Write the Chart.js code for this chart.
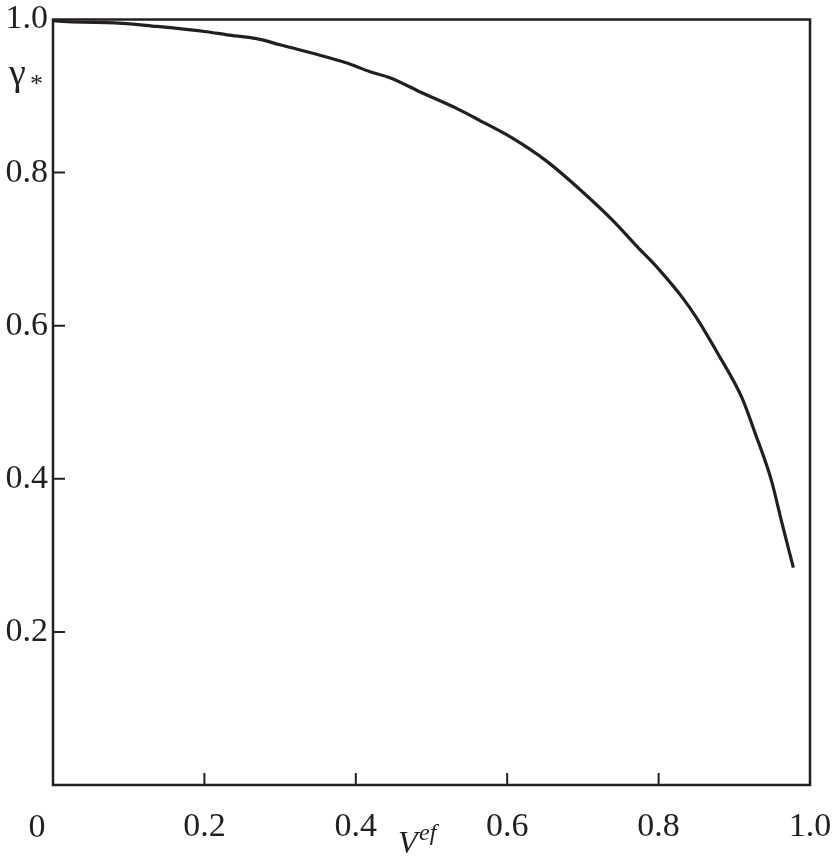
<!DOCTYPE html>
<html>
<head>
<meta charset="utf-8">
<script src="https://cdn.jsdelivr.net/npm/chart.js@4.4.1/dist/chart.umd.min.js"></script>
<style>
html,body{margin:0;padding:0;background:#fff;}
#wrap{width:833px;height:856px;}
</style>
</head>
<body>
<div id="wrap"><canvas id="c" width="833" height="856"></canvas></div>
<script>
const vefValues = [0, 0.003, 0.071, 0.137, 0.203, 0.230, 0.269, 0.300, 0.392, 0.418, 0.445, 0.488, 0.537, 0.564, 0.607, 0.652, 0.696, 0.739, 0.772, 0.801, 0.832, 0.851, 0.878, 0.910, 0.927, 0.949, 0.962, 0.978];
const gammaValues = [1.0, 0.998, 0.996, 0.991, 0.984, 0.980, 0.975, 0.967, 0.942, 0.932, 0.924, 0.904, 0.882, 0.868, 0.845, 0.815, 0.778, 0.738, 0.703, 0.673, 0.636, 0.609, 0.564, 0.506, 0.461, 0.398, 0.346, 0.284];
const xTickValues = [0, 0.2, 0.4, 0.6, 0.8, 1.0];
const yTickValues = [0.2, 0.4, 0.6, 0.8, 1.0];
const xTitle = 'V';
const xTitleSup = 'ef';
const yTitle = 'γ';
const yTitleSub = '*';

const INK = '#231f20';
const FONT = "'Liberation Serif', 'Times New Roman', serif";

const frame = {
  id: 'frame',
  afterDraw(chart) {
    const {ctx, chartArea: a, scales} = chart;
    ctx.save();
    ctx.strokeStyle = INK;
    ctx.lineWidth = 2.5;
    ctx.strokeRect(a.left, a.top, a.right - a.left, a.bottom - a.top);
    ctx.lineWidth = 2;
    ctx.beginPath();
    xTickValues.forEach(v => {
      if (v <= 0 || v >= 1) return;
      const x = scales.x.getPixelForValue(v);
      ctx.moveTo(x, a.bottom); ctx.lineTo(x, a.bottom - 12);
    });
    yTickValues.forEach(v => {
      if (v >= 1) return;
      const y = scales.y.getPixelForValue(v);
      ctx.moveTo(a.left, y); ctx.lineTo(a.left + 12, y);
    });
    ctx.stroke();
    ctx.fillStyle = INK;
    ctx.font = '34px ' + FONT;
    ctx.textAlign = 'center';
    ctx.textBaseline = 'alphabetic';
    const x0 = scales.x.getPixelForValue(0);
    ctx.fillText('0', x0 - 16, a.bottom + 52);
    ctx.textAlign = 'left';
    ctx.font = '38px ' + FONT;
    ctx.fillText(yTitle, 9, 85);
    ctx.font = '26px ' + FONT;
    ctx.fillText(yTitleSub, 30, 92);
    ctx.font = 'italic 32px ' + FONT;
    ctx.fillText(xTitle, 398, 853);
    ctx.font = 'italic 24px ' + FONT;
    ctx.fillText(xTitleSup, 419, 840);
    ctx.restore();
  }
};

function draw() {
  new Chart(document.getElementById('c'), {
    type: 'line',
    data: {
      datasets: [{
        data: vefValues.map((v, i) => ({x: v, y: gammaValues[i]})),
        borderColor: INK,
        borderWidth: 3.2,
        pointRadius: 0,
        cubicInterpolationMode: 'monotone',
        fill: false
      }]
    },
    options: {
      responsive: false,
      animation: false,
      layout: {padding: {left: 0, right: 23, top: 19.5, bottom: 0}},
      plugins: {legend: {display: false}, tooltip: {enabled: false}},
      scales: {
        x: {
          type: 'linear', min: 0, max: 1,
          afterFit(s) { s.height = 71; s.paddingLeft = 0; s.paddingRight = 0; },
          afterBuildTicks(s) { s.ticks = xTickValues.map(v => ({value: v})); },
          grid: {display: false, drawTicks: false},
          border: {display: false},
          ticks: {
            font: {family: FONT, size: 34}, color: INK, padding: 22,
            maxRotation: 0, autoSkip: false,
            callback: v => v === 0 ? '' : v.toFixed(1)
          }
        },
        y: {
          type: 'linear', min: 0, max: 1,
          afterFit(s) { s.width = 53; s.paddingTop = 0; s.paddingBottom = 0; },
          afterBuildTicks(s) { s.ticks = yTickValues.map(v => ({value: v})); },
          grid: {display: false, drawTicks: false},
          border: {display: false},
          ticks: {
            font: {family: FONT, size: 34}, color: INK, padding: 5,
            callback: v => v.toFixed(1)
          }
        }
      }
    },
    plugins: [frame]
  });
}
if (document.fonts && document.fonts.load) {
  Promise.all([
    document.fonts.load("34px 'Liberation Serif'"),
    document.fonts.load("italic 32px 'Liberation Serif'")
  ]).then(draw, draw);
} else { draw(); }
</script>
</body>
</html>
